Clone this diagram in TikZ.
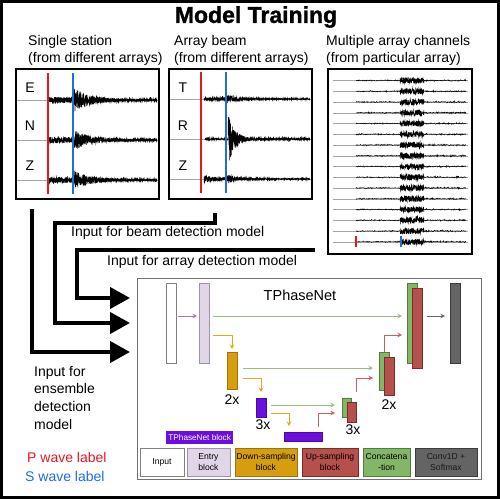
\documentclass[tikz,border=0pt]{standalone}
\usepackage{fontspec}
\setmainfont{Liberation Sans}
\newfontfamily\heavyfont{Liberation Sans}[FakeBold=1.2]
\usetikzlibrary{arrows.meta}
\definecolor{pred}{RGB}{228,22,30}
\definecolor{sblue}{RGB}{28,110,225}
\definecolor{entryc}{RGB}{224,214,232}
\definecolor{entryb}{RGB}{160,145,170}
\definecolor{downc}{RGB}{214,158,14}
\definecolor{downb}{RGB}{160,115,10}
\definecolor{upc}{RGB}{182,80,76}
\definecolor{upb}{RGB}{120,45,42}
\definecolor{catc}{RGB}{132,182,104}
\definecolor{catb}{RGB}{80,125,60}
\definecolor{convc}{RGB}{100,100,100}
\definecolor{convb}{RGB}{60,60,60}
\definecolor{tpc}{RGB}{108,14,222}
\definecolor{garr}{RGB}{150,190,130}
\definecolor{parr}{RGB}{160,120,180}
\definecolor{yarr}{RGB}{225,170,30}
\definecolor{rarr}{RGB}{200,95,95}
\begin{document}
\begin{tikzpicture}[x=1pt,y=-1pt,
  panel/.style={draw=black,line width=2pt,inner sep=0pt,outer sep=0pt,anchor=north west},
  lbl/.style={font=\fontsize{14}{17}\selectfont,inner sep=0pt},
  bigarrow/.style={line width=4pt,-{Triangle[length=20pt 0 0,width=21pt 0 0]}},
  wave/.style={line width=0.45pt,black},
  base/.style={line width=0.4pt,black!35},
  bar/.style={inner sep=0pt,outer sep=0pt,anchor=north west,line width=0.6pt},
  sarr/.style={line width=0.9pt,-{Stealth[length=4.5pt,width=4.5pt]}},
  leg/.style={inner sep=0pt,outer sep=0pt,anchor=north west,minimum height=28pt,line width=0.7pt,align=center,font=\fontsize{8.6}{10.5}\selectfont}
]
\useasboundingbox (0,0) rectangle (500,499);
\pgfmathsetseed{4242}
% outer frame
\draw[line width=3pt] (1.5,1.5) rectangle (498.5,497.5);
% title
\node[inner sep=0pt,font=\fontsize{23}{26}\selectfont\heavyfont\bfseries] (title) at (256,17) {Model Training};
% panel headings
\node[lbl,anchor=west] (h1a) at (28,42) {Single station};
\node[lbl,anchor=west] (h1b) at (28,59) {(from different arrays)};
\node[lbl,anchor=west] (h2a) at (174,42) {Array beam};
\node[lbl,anchor=west] (h2b) at (174,59) {(from different arrays)};
\node[lbl,anchor=west] (h3a) at (326,42) {Multiple array channels};
\node[lbl,anchor=west] (h3b) at (326,59) {(from particular array)};
% panels
\node[panel,minimum width=143pt,minimum height=130pt] (single) at (16,69) {};
\node[panel,minimum width=143pt,minimum height=130pt] (beam) at (169,69) {};
\node[panel,minimum width=144pt,minimum height=185pt] (multi) at (328,69) {};
% single station traces
\foreach \b/\pk in {100/12,140/10,180/9}{
  \draw[base] (17,\b) -- (158,\b);
  \draw[wave] plot[domain=49:73,samples=220] (\x,{\b+3*rand});
  \draw[wave] plot[domain=73:157,samples=800] (\x,{\b+(1.1+\pk*exp(-(\x-73)/16))*rand});
}
\node[lbl] (E) at (30,88) {E};
\node[lbl] (N) at (30,126) {N};
\node[lbl] (Z1) at (30,166) {Z};
\draw[pred,line width=2.5pt] (48,73) -- (48,194);
\draw[sblue,line width=2.5pt] (73,73) -- (73,194);
% beam traces
\foreach \b in {99,139,179}{\draw[base] (170,\b) -- (311,\b);}
\draw[wave] plot[domain=204:227,samples=200] (\x,{99+1.6*rand});
\draw[wave] plot[domain=227:310,samples=600] (\x,{99+(0.7+3.5*exp(-(\x-228)/10))*rand});
\draw[wave] plot[domain=205:228,samples=160] (\x,{139+0.9*rand});
\draw[wave] plot[domain=228:310,samples=700] (\x,{139+(0.9+22*exp(-(\x-229)/7))*rand});
\draw[wave] plot[domain=204:227,samples=200] (\x,{179+(1.6+3*exp(-(\x-204)/5))*rand});
\draw[wave] plot[domain=227:310,samples=600] (\x,{179+(0.7+3.5*exp(-(\x-228)/12))*rand});
\node[lbl] (T) at (183,88) {T};
\node[lbl] (R) at (183,126) {R};
\node[lbl] (Z2) at (183,166) {Z};
\draw[pred,line width=2.5pt] (201,72) -- (201,193);
\draw[sblue,line width=2.5pt] (226,72) -- (226,193);
% multi channel traces
\foreach \i in {0,...,15}{
  \pgfmathsetmacro\yb{80.5+10.75*\i}
  \draw[base] (333,\yb) -- (468,\yb);
  \draw[wave] plot[domain=356:400,samples=110] (\x,{\yb+0.9*rand*rand});
  \draw[wave] plot[domain=400:424,samples=160] (\x,{\yb+3*rand});
  \draw[wave] plot[domain=424:466,samples=120] (\x,{\yb+1.1*rand*rand});
}
\draw[pred,line width=2.2pt] (356,236) -- (356,247);
\draw[sblue,line width=2.2pt] (401,236) -- (401,247);
% big arrows
\coordinate (s1) at (32,209);
\coordinate (b1) at (215,213);
\coordinate (b2) at (55,223);
\coordinate (a1) at (315,250);
\coordinate (a2) at (77,250);
\coordinate (t1) at (130,298);
\coordinate (t2) at (130,323);
\coordinate (t3) at (130,352);
\draw[bigarrow] (a1) -- (a2) |- (t1);
\draw[bigarrow] (b1) |- (b2) |- (t2);
\draw[bigarrow] (s1) |- (t3);
\node[lbl,anchor=west] (lbeam) at (71,233) {Input for beam detection model};
\node[lbl,anchor=west] (larray) at (107,262) {Input for array detection model};
\node[lbl,anchor=north west,align=left,font=\fontsize{14}{17.6}\selectfont] (lens) at (34,366) {Input for\\ensemble\\detection\\model};
\node[lbl,anchor=west,text=pred] (pl) at (27,457) {P wave label};
\node[lbl,anchor=west,text=sblue] (sl) at (25,476) {S wave label};
% TPhaseNet box
\node[panel,draw=black!55,line width=1pt,minimum width=344pt,minimum height=201pt] (tpn) at (137,278.5) {};
\node[lbl,font=\fontsize{14.5}{17}\selectfont] (tname) at (300,295) {TPhaseNet};
% bars
\node[bar,draw=black!50,fill=white,minimum width=10pt,minimum height=80pt] (inp) at (166,283) {};
\node[bar,draw=entryb,fill=entryc,minimum width=10pt,minimum height=80pt] (entry) at (199,283) {};
\node[bar,draw=downb,fill=downc,minimum width=10pt,minimum height=37pt] (down1) at (227,352) {};
\node[bar,draw=tpc!70!black,fill=tpc,minimum width=10pt,minimum height=19pt] (down2) at (256,398) {};
\node[bar,draw=tpc!70!black,fill=tpc,minimum width=38pt,minimum height=9pt] (bot) at (284,432) {};
\node[bar,draw=catb,fill=catc,minimum width=9pt,minimum height=19pt] (cat1) at (342,398) {};
\node[bar,draw=upb,fill=upc,minimum width=9pt,minimum height=20pt] (up1) at (347,402) {};
\node[bar,draw=catb,fill=catc,minimum width=10pt,minimum height=38pt] (cat2) at (379,352) {};
\node[bar,draw=upb,fill=upc,minimum width=10pt,minimum height=38pt] (up2) at (384,357) {};
\node[bar,draw=catb,fill=catc,minimum width=10pt,minimum height=80pt] (cat3) at (407,283) {};
\node[bar,draw=upb,fill=upc,minimum width=10pt,minimum height=80pt] (up3) at (412,288) {};
\node[bar,draw=convb,fill=convc,minimum width=10pt,minimum height=80pt] (outb) at (450,283) {};
% small arrows
\draw[sarr,parr] ([xshift=2pt]inp.east |- 0,316) -- ([xshift=-2pt]entry.west |- 0,316);
\draw[sarr,garr] ([xshift=4pt]entry.east |- 0,316) -- ([xshift=-5pt]cat3.west |- 0,316);
\draw[sarr,black!60] ([xshift=5pt]up3.east |- 0,316) -- ([xshift=-5pt]outb.west |- 0,316);
\draw[sarr,yarr] ([xshift=4pt]entry.east |- 0,335) -| ([yshift=3pt]down1.north);
\draw[sarr,garr] ([xshift=6pt]down1.east |- 0,368) -- ([xshift=-6pt]cat2.west |- 0,368);
\draw[sarr,yarr] ([xshift=6pt]down1.east |- 0,378) -| ([yshift=6pt]down2.north);
\draw[sarr,garr] ([xshift=5pt]down2.east |- 0,405) -- ([xshift=-7pt]cat1.west |- 0,405);
\draw[sarr,yarr] ([xshift=5pt]down2.east |- 0,413) -| ([xshift=5pt,yshift=6pt]bot.north west);
\draw[sarr,rarr] ([xshift=-4pt,yshift=5pt]bot.north east) |- ([xshift=-7pt]cat1.west |- 0,413);
\draw[sarr,rarr] ([yshift=10pt]up1.north east) |- ([xshift=-6pt]cat2.west |- 0,378);
\draw[sarr,rarr] ([xshift=5pt]cat2.north west) |- ([xshift=-5pt]cat3.west |- 0,335);
\node[lbl] (r1) at (232,400) {2x};
\node[lbl] (r2) at (263,425) {3x};
\node[lbl] (r3) at (353,430) {3x};
\node[lbl] (r4) at (389,405) {2x};
% legend
\node[inner sep=0pt,fill=tpc,text=white,minimum width=67pt,minimum height=13pt,font=\fontsize{8.2}{10}\selectfont,anchor=north west] (tpb) at (166,431) {TPhaseNet block};
\node[leg,draw=black!50,fill=white,minimum width=44pt] (lg1) at (140,448) {Input};
\node[leg,draw=entryb,fill=entryc,minimum width=43pt] (lg2) at (187,448) {Entry\\block};
\node[leg,draw=downb,fill=downc,minimum width=62pt] (lg3) at (235,448) {Down-sampling\\block};
\node[leg,draw=upb,fill=upc,minimum width=56pt] (lg4) at (302,448) {Up-sampling\\block};
\node[leg,draw=catb,fill=catc,minimum width=47pt] (lg5) at (363,448) {Concatena\\-tion};
\node[leg,draw=convb,fill=convc,text=black!90,minimum width=62pt] (lg6) at (415,448) {Conv1D +\\Softmax};
\end{tikzpicture}
\end{document}
